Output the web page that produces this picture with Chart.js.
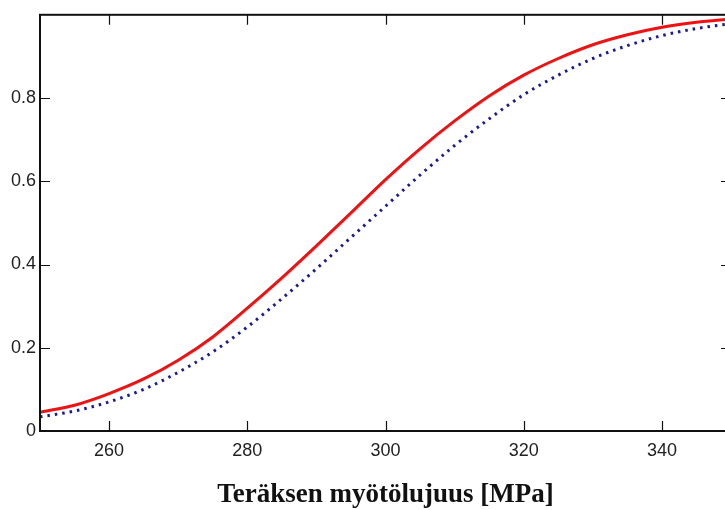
<!DOCTYPE html>
<html>
<head>
<meta charset="utf-8">
<script src="https://cdn.jsdelivr.net/npm/chart.js@4/dist/chart.umd.min.js"></script>
<style>
  html, body { margin: 0; padding: 0; background: #fff; }
  #wrap { width: 725px; height: 510px; overflow: hidden; }
  #cdfCanvas { display: block; }
</style>
</head>
<body>
<div id="wrap"><canvas id="cdfCanvas" width="745" height="510"></canvas></div>
<script>
const yieldStrength = [250, 255, 260, 265, 270, 275, 280, 285, 290, 295, 300,
                       305, 310, 315, 320, 325, 330, 335, 340, 345, 350];
const cdfSolid  = [0.045, 0.062, 0.090, 0.125, 0.170, 0.226, 0.295, 0.368, 0.445, 0.524, 0.604,
                   0.678, 0.745, 0.805, 0.855, 0.895, 0.928, 0.952, 0.970, 0.982, 0.990];
const cdfDotted = [0.034, 0.048, 0.070, 0.100, 0.141, 0.190, 0.250, 0.318, 0.390, 0.465, 0.540,
                   0.615, 0.686, 0.750, 0.808, 0.855, 0.895, 0.926, 0.950, 0.967, 0.979];

const xTicks = [260, 280, 300, 320, 340];
const yTicks = [0, 0.2, 0.4, 0.6, 0.8];
const xTitle = 'Teräksen myötölujuus [MPa]';

const TICK_LEN = 10;

function toPoints(values) {
    return yieldStrength.map((x, i) => ({ x: x, y: values[i] }));
}

// box around the plot area with inward tick marks on all four sides
const boxPlugin = {
    id: 'matlabBox',
    afterDraw(chart) {
        const ctx = chart.ctx;
        const a = chart.chartArea;
        const sx = chart.scales.x;
        const sy = chart.scales.y;
        ctx.save();
        ctx.strokeStyle = '#111';
        ctx.lineWidth = 1.2;
        ctx.beginPath();
        xTicks.forEach(v => {
            const px = Math.round(sx.getPixelForValue(v)) + 0.5;
            ctx.moveTo(px, a.bottom);
            ctx.lineTo(px, a.bottom - TICK_LEN);
            ctx.moveTo(px, a.top);
            ctx.lineTo(px, a.top + TICK_LEN);
        });
        yTicks.forEach(v => {
            const py = Math.round(sy.getPixelForValue(v)) + 0.5;
            ctx.moveTo(a.left, py);
            ctx.lineTo(a.left + TICK_LEN, py);
            ctx.moveTo(a.right, py);
            ctx.lineTo(a.right - TICK_LEN, py);
        });
        ctx.stroke();
        ctx.lineWidth = 2;
        ctx.strokeRect(a.left, a.top, a.right - a.left, a.bottom - a.top);
        ctx.restore();
    }
};

const chart = new Chart(document.getElementById('cdfCanvas'), {
    type: 'line',
    data: {
        datasets: [{
            data: toPoints(cdfSolid),
            borderColor: '#f01212',
            borderWidth: 3,
            pointRadius: 0,
            cubicInterpolationMode: 'monotone',
            fill: false
        }, {
            data: toPoints(cdfDotted),
            borderColor: '#1a1a90',
            borderWidth: 3,
            borderDash: [2.5, 5],
            pointRadius: 0,
            cubicInterpolationMode: 'monotone',
            fill: false
        }]
    },
    options: {
        responsive: false,
        animation: false,
        layout: { padding: { left: 0, top: 13, right: 14, bottom: 0 } },
        plugins: {
            legend: { display: false },
            tooltip: { enabled: false }
        },
        scales: {
            x: {
                type: 'linear',
                min: 250,
                max: 350,
                afterBuildTicks(scale) {
                    scale.ticks = xTicks.map(v => ({ value: v }));
                },
                afterFit(scale) {
                    scale.height = 79;
                },
                grid: { display: false, drawTicks: false },
                border: { display: false },
                ticks: {
                    padding: 9,
                    color: '#222',
                    font: { family: 'Liberation Sans', size: 18 }
                },
                title: {
                    display: true,
                    text: xTitle,
                    color: '#111',
                    padding: { top: 0, bottom: 1 },
                    font: { family: 'Liberation Serif', size: 27, weight: 'bold', lineHeight: 1 }
                }
            },
            y: {
                type: 'linear',
                min: 0,
                max: 1,
                afterBuildTicks(scale) {
                    scale.ticks = yTicks.map(v => ({ value: v }));
                },
                afterFit(scale) {
                    scale.width = 40;
                },
                grid: { display: false, drawTicks: false },
                border: { display: false },
                ticks: {
                    padding: 4,
                    color: '#222',
                    font: { family: 'Liberation Sans', size: 18 },
                    callback: v => String(v)
                }
            }
        }
    },
    plugins: [boxPlugin]
});
</script>
</body>
</html>
